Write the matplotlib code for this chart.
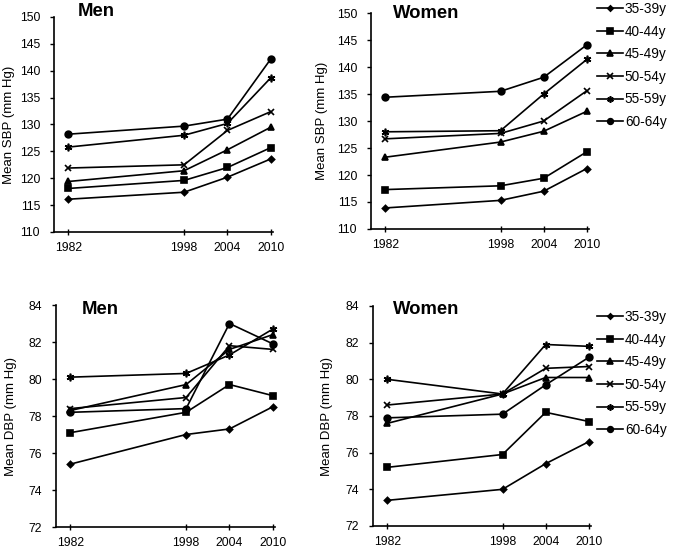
import matplotlib
matplotlib.use("Agg")
import matplotlib.pyplot as plt
from matplotlib.lines import Line2D

plt.rcParams["font.family"] = ["Liberation Sans", "DejaVu Sans"]

years = [1982, 1998, 2004, 2010]
groups = ["35-39y", "40-44y", "45-49y", "50-54y", "55-59y", "60-64y"]

# mean systolic blood pressure
sbp_men = [
    [116.1, 117.4, 120.2, 123.6],
    [118.1, 119.6, 122.0, 125.7],
    [119.4, 121.4, 125.3, 129.5],
    [121.9, 122.5, 128.9, 132.4],
    [125.8, 128.0, 130.2, 138.7],
    [128.2, 129.7, 131.0, 142.2],
]
sbp_women = [
    [113.9, 115.3, 117.0, 121.2],
    [117.3, 118.0, 119.4, 124.3],
    [123.3, 126.1, 128.1, 131.8],
    [126.7, 127.7, 130.0, 135.6],
    [128.0, 128.2, 135.0, 141.4],
    [134.4, 135.5, 138.1, 144.1],
]
# mean diastolic blood pressure
dbp_men = [
    [75.4, 77.0, 77.3, 78.5],
    [77.1, 78.2, 79.7, 79.1],
    [78.3, 79.7, 81.6, 82.4],
    [78.4, 79.0, 81.8, 81.6],
    [80.1, 80.3, 81.3, 82.7],
    [78.2, 78.4, 83.0, 81.9],
]
dbp_women = [
    [73.4, 74.0, 75.4, 76.6],
    [75.2, 75.9, 78.2, 77.7],
    [77.6, 79.2, 80.1, 80.1],
    [78.6, 79.2, 80.6, 80.7],
    [80.0, 79.2, 81.9, 81.8],
    [77.9, 78.1, 79.7, 81.2],
]

markers = ["D", "s", "^", "x", (6, 2, 0), "o"]
msizes = [3.2, 4.5, 5, 5, 5.5, 4.8]
FS = 8.8

W, H = 675, 549
fig = plt.figure(figsize=(W / 100, H / 100), dpi=100)


def panel(left, top, right, bottom, data, ylim, yticks, ylabel, lx, title, tx, ty):
    ax = fig.add_axes([left / W, 1 - bottom / H, (right - left) / W, (bottom - top) / H])
    for vals, m, ms in zip(data, markers, msizes):
        ax.plot(years, vals, color="k", lw=1.2, marker=m, ms=ms, mew=1.2,
                mfc="k", mec="k", clip_on=False)
    ax.set_xlim(1980, 2010.3)
    ax.set_ylim(*ylim)
    ax.set_xticks(years)
    ax.set_yticks(yticks)
    for s in ["top", "right"]:
        ax.spines[s].set_visible(False)
    for s in ["left", "bottom"]:
        ax.spines[s].set_linewidth(1.2)
    ax.tick_params(axis="y", direction="out", length=3, width=1.0, labelsize=FS, pad=7)
    ax.tick_params(axis="x", direction="inout", length=4, width=1.0, labelsize=FS, pad=5)
    fig.text(lx / W, 1 - (top + bottom) / 2 / H, ylabel, fontsize=9.5, rotation=90,
             ha="center", va="center")
    fig.text(tx / W, 1 - ty / H, title, fontsize=13.3, fontweight="bold",
             va="center", ha="left")
    return ax


panel(54, 17, 273, 232, sbp_men, (110, 150), range(110, 151, 5),
      "Mean SBP (mm Hg)", 9, "Men", 78, 11)
panel(371, 13, 589, 229, sbp_women, (110, 150), range(110, 151, 5),
      "Mean SBP (mm Hg)", 322, "Women", 393, 13)
panel(56, 305, 275, 527, dbp_men, (72, 84), range(72, 85, 2),
      "Mean DBP (mm Hg)", 11, "Men", 82, 310)
panel(373, 306, 591, 526, dbp_women, (72, 84), range(72, 85, 2),
      "Mean DBP (mm Hg)", 327, "Women", 393, 309)

handles = [Line2D([], [], color="k", lw=1.2, marker=m, ms=ms * 0.85, mew=1.2, mfc="k", mec="k")
           for m, ms in zip(markers, msizes)]
for ytop in [2, 310]:
    fig.legend(handles, groups, loc="upper left", bbox_to_anchor=(597 / W, 1 - ytop / H),
               frameon=False, fontsize=9.8, handlelength=1.9, handletextpad=0.15,
               labelspacing=0.63, borderaxespad=0, borderpad=0)

fig.savefig("out.png", dpi=100)
